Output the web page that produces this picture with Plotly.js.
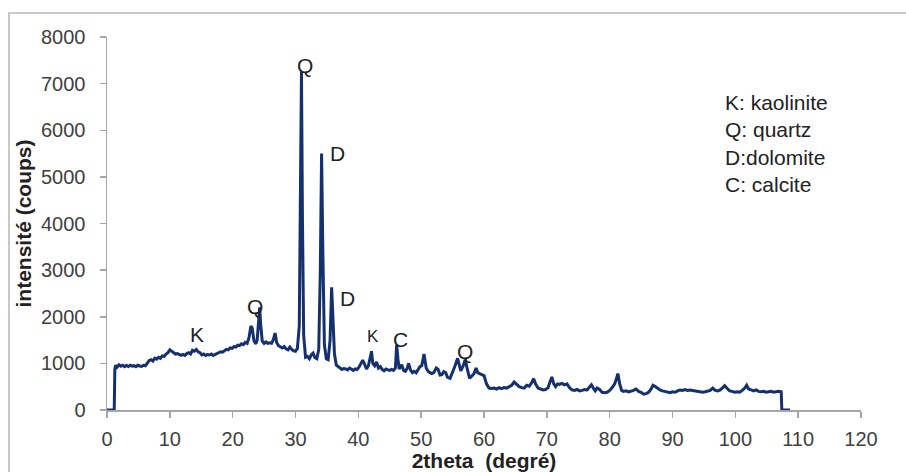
<!DOCTYPE html>
<html>
<head>
<meta charset="utf-8">
<script src="https://cdn.plot.ly/plotly-3.0.1.min.js"></script>
<style>
  html, body { margin: 0; padding: 0; background: #fff; overflow: hidden; }
  #frame { position: absolute; left: 8px; top: 12px; width: 1000px; height: 1000px;
           border-left: 2px solid #c8c8c8; border-top: 2px solid #c8c8c8; pointer-events: none; }
  #chart { position: absolute; left: 0; top: 0; width: 906px; height: 472px; }
</style>
</head>
<body>
<div id="chart"></div>
<div id="frame"></div>
<script>
// Diffractogram: 2theta (degrees) vs intensity (counts)
const twoTheta = [
  0, 0.5, 1.0, 1.15, 1.25, 1.4, 1.6, 1.9, 2.2, 2.5, 2.8, 3.1, 3.4, 3.7, 4.0, 4.3, 4.6, 4.9, 5.2, 5.5, 5.8,
  6.1, 6.4, 6.7, 7.0, 7.3, 7.6, 7.9, 8.2, 8.5, 8.8, 9.1, 9.4, 9.7, 10.0, 10.3, 10.6, 10.9, 11.2, 11.5, 11.8,
  12.1, 12.4, 12.7, 13.0, 13.3, 13.6, 13.9, 14.2, 14.5, 14.8, 15.1, 15.4, 15.7, 16.0, 16.3, 16.6, 16.9, 17.2,
  17.5, 17.8, 18.1, 18.4, 18.7, 19.0, 19.3, 19.6, 19.9, 20.2, 20.5, 20.8, 21.1, 21.4, 21.7, 22.0, 22.3, 22.6,
  22.9, 23.1, 23.4, 23.7, 23.9, 24.15, 24.3, 24.45, 24.7, 25.0, 25.3, 25.6, 25.9, 26.2, 26.5, 26.75, 27.0,
  27.3, 27.6, 27.9, 28.2, 28.5, 28.8, 29.1, 29.4, 29.7, 30.0, 30.3, 30.6, 30.8, 30.95, 31.1, 31.3, 31.6, 31.9,
  32.2, 32.5, 32.8, 33.1, 33.4, 33.7, 33.95, 34.15, 34.35, 34.6, 34.9, 35.2, 35.5, 35.75, 35.95, 36.2, 36.5,
  36.8, 37.1, 37.4, 37.7, 38.0, 38.3, 38.6, 38.9, 39.2, 39.5, 39.8, 40.1, 40.4, 40.7, 41.0, 41.3, 41.6, 41.9,
  42.1, 42.3, 42.6, 42.9, 43.2, 43.5, 43.8, 44.1, 44.4, 44.7, 45.0, 45.3, 45.6, 45.9, 46.1, 46.3, 46.5, 46.9,
  47.2, 47.5, 47.8, 48.0, 48.3, 48.6, 48.9, 49.2, 49.5, 49.8, 50.1, 50.45, 50.8, 51.1, 51.4, 51.7, 52.0, 52.4,
  52.7, 53.0, 53.3, 53.6, 53.9, 54.2, 54.6, 55.0, 55.4, 55.8, 56.1, 56.3, 56.7, 57.0, 57.3, 57.7, 58.0, 58.4,
  58.75, 59.0, 59.3, 59.6, 60.0, 60.4, 60.8, 61.2, 61.6, 62.0, 62.4, 62.8, 63.2, 63.6, 64.0, 64.4, 64.8, 65.2,
  65.6, 66.0, 66.4, 66.8, 67.2, 67.6, 67.9, 68.2, 68.6, 69.0, 69.4, 69.8, 70.2, 70.5, 70.8, 71.1, 71.4, 71.7,
  72.0, 72.4, 72.8, 73.2, 73.6, 74.0, 74.4, 74.8, 75.2, 75.6, 76.0, 76.4, 76.8, 77.1, 77.4, 77.7, 78.0, 78.4,
  78.8, 79.2, 79.6, 80.0, 80.4, 80.8, 81.1, 81.3, 81.6, 81.9, 82.2, 82.6, 83.0, 83.4, 83.8, 84.2, 84.6, 85.0,
  85.4, 85.8, 86.2, 86.6, 86.9, 87.2, 87.6, 88.0, 88.4, 88.8, 89.2, 89.6, 90.0, 90.4, 90.8, 91.2, 91.6, 92.0,
  92.4, 92.8, 93.2, 93.6, 94.0, 94.4, 94.8, 95.2, 95.6, 96.0, 96.4, 96.8, 97.2, 97.6, 98.0, 98.3, 98.7, 99.1,
  99.5, 99.9, 100.3, 100.7, 101.1, 101.5, 101.8, 102.1, 102.5, 102.9, 103.3, 103.7, 104.1, 104.5, 104.9,
  105.3, 105.7, 106.1, 106.5, 106.9, 107.3, 107.4, 108.0, 108.7
];
const counts = [
  0, 0, 0, 0, 880, 960, 920, 970, 940, 960, 930, 955, 935, 960, 940, 950, 930, 960, 945, 935, 960,
  950, 1000, 1060, 1080, 1050, 1110, 1090, 1130, 1110, 1160, 1150, 1200, 1230, 1290, 1260, 1240, 1200, 1210, 1180, 1170,
  1190, 1170, 1210, 1230, 1200, 1280, 1260, 1300, 1250, 1230, 1180, 1200, 1170, 1190, 1180, 1200, 1170, 1190,
  1200, 1230, 1250, 1240, 1280, 1300, 1290, 1330, 1320, 1360, 1350, 1390, 1380, 1420, 1400, 1450, 1430, 1550,
  1800, 1760, 1480, 1420, 1500, 1900, 2200, 1850, 1480, 1430, 1460, 1430, 1440, 1430, 1520, 1650, 1450,
  1380, 1350, 1330, 1360, 1310, 1290, 1350, 1300, 1270, 1260, 1320, 1800, 4500, 7250, 4200, 1600, 1130, 1150,
  1100, 1180, 1220, 1120, 1100, 1300, 3000, 5500, 3400, 1400, 1100, 1080, 1500, 2630, 2000, 1200, 960,
  920, 900, 870, 890, 880, 860, 900, 870, 850, 880, 870, 920, 1000, 1070, 980, 880, 950, 1130,
  1260, 1000, 950, 1030, 900, 930, 870, 840, 880, 860, 850, 870, 850, 900, 1400, 1100, 880, 970,
  850, 830, 900, 1000, 860, 800, 830, 800, 870, 930, 950, 1200, 900, 830, 800, 780, 800, 900,
  870, 750, 760, 820, 800, 700, 680, 800, 950, 1110, 950, 840, 950, 1080, 900, 680, 720, 780,
  900, 800, 780, 760, 740, 560, 470, 460, 470, 450, 480, 460, 480, 470, 500, 530, 600, 540,
  500, 480, 470, 530, 510, 590, 670, 560, 470, 450, 430, 440, 480, 600, 710, 560, 500, 560,
  550, 570, 540, 560, 480, 430, 420, 440, 410, 420, 440, 430, 500, 540, 470, 410, 470, 440,
  380, 370, 380, 420, 480, 560, 680, 780, 560, 420, 400, 410, 390, 400, 420, 450, 400, 380,
  340, 350, 380, 450, 530, 510, 460, 430, 410, 400, 380, 370, 390, 380, 410, 430, 420, 440,
  420, 430, 420, 410, 390, 380, 380, 390, 400, 420, 470, 420, 410, 430, 480, 520, 460, 410,
  400, 380, 390, 380, 420, 470, 530, 450, 430, 410, 430, 400, 390, 400, 380,
  390, 400, 380, 390, 400, 390, 0, 0, 0
];

// Phase labels placed beside their peaks
const phaseLabels = ['Q', 'D', 'D', 'K', 'Q', 'K', 'C', 'Q'];
const labelX      = [31.5, 36.7, 38.3, 14.4, 23.5, 42.3, 46.7, 57.0];
const labelY      = [7380, 5500, 2400, 1620, 2220, 1580, 1520, 1250];
const labelSize   = [21, 21, 21, 21, 21, 17, 21, 21];

const legendLines = ['K: kaolinite', 'Q: quartz', 'D:dolomite', 'C: calcite'];

const xTicks = [0, 10, 20, 30, 40, 50, 60, 70, 80, 90, 100, 110, 120];
const yTicks = [0, 1000, 2000, 3000, 4000, 5000, 6000, 7000, 8000];

const FONT = '"Liberation Sans", Arial, sans-serif';

const annotations = phaseLabels.map((t, i) => ({
  x: labelX[i], y: labelY[i], xref: 'x', yref: 'y', text: t, showarrow: false,
  xanchor: 'center', yanchor: 'middle',
  font: { family: FONT, size: labelSize[i], color: '#222' }
}));
annotations.push({
  xref: 'paper', yref: 'paper', x: 0.817, y: 0.86, xanchor: 'left', yanchor: 'top',
  align: 'left', showarrow: false, text: legendLines.join('<br>'),
  font: { family: FONT, size: 21, color: '#222' }
});

const axisCommon = {
  showgrid: false, zeroline: false, showline: true, linecolor: '#a6a6a6', linewidth: 1.5,
  ticks: 'outside', ticklen: 6, tickwidth: 1.5, tickcolor: '#a6a6a6',
  tickfont: { family: FONT, size: 20, color: '#404040' }
};

Plotly.newPlot('chart', [{
  x: twoTheta, y: counts, type: 'scatter', mode: 'lines',
  line: { color: '#14306e', width: 3 }, hoverinfo: 'skip'
}], {
  width: 906, height: 472,
  margin: { l: 107, r: 45, t: 37, b: 62 },
  paper_bgcolor: 'rgba(0,0,0,0)', plot_bgcolor: 'rgba(0,0,0,0)',
  showlegend: false,
  xaxis: Object.assign({}, axisCommon, {
    range: [0, 120], tickvals: xTicks, ticktext: xTicks.map(String), ticklabelstandoff: 4,
    title: { text: '2theta\u00a0\u00a0(degré)', standoff: 4,
             font: { family: FONT, size: 21, color: '#222', weight: 'bold' } }
  }),
  yaxis: Object.assign({}, axisCommon, {
    range: [0, 8000], tickvals: yTicks, ticktext: yTicks.map(String), ticklabelstandoff: 10,
    title: { text: 'intensité (coups)', standoff: 3,
             font: { family: FONT, size: 21, color: '#222', weight: 'bold' } }
  }),
  annotations: annotations
}, { staticPlot: true });
</script>
</body>
</html>
